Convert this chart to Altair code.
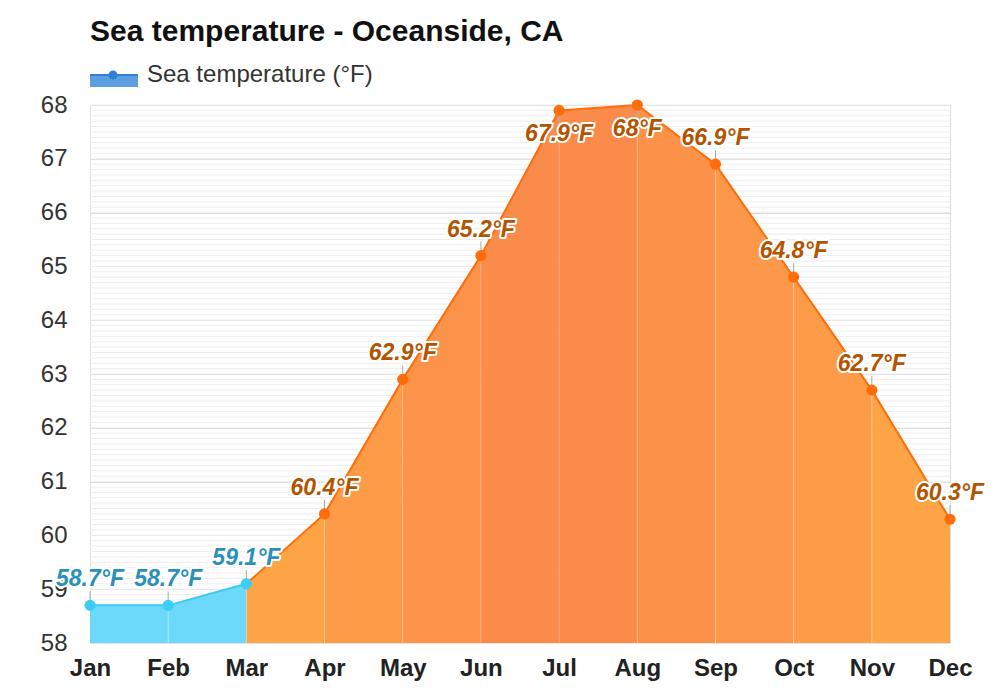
import altair as alt
import pandas as pd

months = ["Jan", "Feb", "Mar", "Apr", "May", "Jun", "Jul", "Aug", "Sep", "Oct", "Nov", "Dec"]
temps = [58.7, 58.7, 59.1, 60.4, 62.9, 65.2, 67.9, 68.0, 66.9, 64.8, 62.7, 60.3]
labels = ["58.7°F", "58.7°F", "59.1°F", "60.4°F", "62.9°F", "65.2°F", "67.9°F", "68°F", "66.9°F", "64.8°F", "62.7°F", "60.3°F"]
label_below = [False, False, False, False, False, False, True, True, False, False, False, False]
seg_colors = ["#6dd9fa", "#6dd9fa", "#fda447", "#fd9b48", "#fc934a", "#fb8b4b",
              "#fb8b4b", "#fc914a", "#fd974a", "#fd9c48", "#fda447"]
y_ticks = [58, 59, 60, 61, 62, 63, 64, 65, 66, 67, 68]
y_min, y_max = 58, 68
title_text = "Sea temperature - Oceanside, CA"
legend_text = "Sea temperature (°F)"

FONT = "Liberation Sans"
W, H = 860, 538

df = pd.DataFrame({"idx": list(range(len(months))), "month": months, "temp": temps,
                   "label": labels, "below": label_below})

seg_rows = []
for i in range(len(months) - 1):
    seg_rows.append({"seg": i, "idx": i, "temp": temps[i]})
    seg_rows.append({"seg": i, "idx": i + 1, "temp": temps[i + 1]})
seg_df = pd.DataFrame(seg_rows)

month_arr = "[" + ",".join("'" + m + "'" for m in months) + "]"

minor_df = pd.DataFrame({"g": [round(y_min + 0.1 * k, 1) for k in range(int((y_max - y_min) * 10) + 1)]})

x_scale = alt.Scale(domain=[0, len(months) - 1], nice=False, zero=False)
y_scale = alt.Scale(domain=[y_min, y_max], nice=False, zero=False)

x_enc = alt.X("idx:Q", scale=x_scale, axis=alt.Axis(
    values=list(range(len(months))), labelExpr=month_arr + "[datum.value]",
    title=None, grid=False, ticks=False, domain=False, labelFlush=False, labelOverlap=False,
    labelFont=FONT, labelFontSize=24, labelFontWeight="bold", labelColor="#222", labelPadding=13))

y_enc = alt.Y("temp:Q", scale=y_scale, axis=alt.Axis(
    values=y_ticks, title=None, ticks=False, domain=False, labelOverlap=False, labelFlush=False,
    labelFont=FONT, labelFontSize=24, labelColor="#333", labelPadding=23,
    gridColor="#dadada", gridWidth=1))

base = alt.Chart(df)

minor = alt.Chart(minor_df).mark_rule(color="#eeeeee", strokeWidth=1).encode(
    y=alt.Y("g:Q", scale=y_scale), x=alt.value(0), x2=alt.value(W))

# layer carrying axes (invisible)
axes = base.mark_point(opacity=0).encode(x=x_enc, y=y_enc)

area = alt.Chart(seg_df).mark_area(opacity=1).encode(
    x=alt.X("idx:Q", scale=x_scale),
    y=alt.Y("temp:Q", scale=y_scale),
    y2=alt.datum(y_min),
    color=alt.Color("seg:N", scale=alt.Scale(domain=list(range(len(seg_colors))), range=seg_colors), legend=None),
    detail="seg:N",
)

bounds = base.transform_filter("datum.idx > 0 && datum.idx < 11").mark_rule(
    color="white", opacity=0.25, strokeWidth=1).encode(
    x=alt.X("idx:Q", scale=x_scale), y=alt.Y("temp:Q", scale=y_scale), y2=alt.datum(y_min))

line_cold = base.transform_filter("datum.idx <= 2").mark_line(color="#3cc8f5", strokeWidth=2).encode(
    x=alt.X("idx:Q", scale=x_scale), y=alt.Y("temp:Q", scale=y_scale))
line_warm = base.transform_filter("datum.idx >= 2").mark_line(color="#ff6d0a", strokeWidth=2).encode(
    x=alt.X("idx:Q", scale=x_scale), y=alt.Y("temp:Q", scale=y_scale))

tick_up = base.transform_filter("!datum.below").mark_rule(color="#a8a8a8", strokeWidth=1, y2Offset=-14).encode(
    x=alt.X("idx:Q", scale=x_scale), y=alt.Y("temp:Q", scale=y_scale), y2="temp:Q")
tick_dn = base.transform_filter("datum.below").mark_rule(color="#a8a8a8", strokeWidth=1, y2Offset=14).encode(
    x=alt.X("idx:Q", scale=x_scale), y=alt.Y("temp:Q", scale=y_scale), y2="temp:Q")

points = base.mark_circle(size=125, opacity=1).encode(
    x=alt.X("idx:Q", scale=x_scale), y=alt.Y("temp:Q", scale=y_scale),
    color=alt.condition("datum.temp < 60", alt.value("#3ccdf6"), alt.value("#ff6d0a")))


def label_layer(filt, dy, halo):
    kw = dict(font=FONT, fontSize=23, fontWeight="bold", fontStyle="italic",
              align="center", baseline="middle", dy=dy)
    if halo:
        m = base.transform_filter(filt).mark_text(stroke="white", strokeWidth=4, strokeJoin="round",
                                                  fill="white", **kw)
        return m.encode(x=alt.X("idx:Q", scale=x_scale), y=alt.Y("temp:Q", scale=y_scale), text="label:N")
    m = base.transform_filter(filt).mark_text(**kw)
    return m.encode(x=alt.X("idx:Q", scale=x_scale), y=alt.Y("temp:Q", scale=y_scale), text="label:N",
                    color=alt.condition("datum.temp < 60", alt.value("#2a90b8"), alt.value("#b35500")))


labels_layers = [
    label_layer("!datum.below", -26, True), label_layer("datum.below", 24, True),
    label_layer("!datum.below", -26, False), label_layer("datum.below", 24, False),
]

one = pd.DataFrame({"t": [title_text], "l": [legend_text]})
title = alt.Chart(one).mark_text(font=FONT, fontSize=30, fontWeight="bold", color="#111",
                                 align="left", baseline="middle").encode(
    x=alt.value(0), y=alt.value(-73), text="t:N")
leg_rect = alt.Chart(one).mark_rect(color="#5d9de2").encode(
    x=alt.value(0), x2=alt.value(48), y=alt.value(-30), y2=alt.value(-18))
leg_line = alt.Chart(one).mark_rule(color="#2f7fd6", strokeWidth=2).encode(
    x=alt.value(0), x2=alt.value(48), y=alt.value(-30))
leg_dot = alt.Chart(one).mark_circle(color="#2f7fd6", size=80, opacity=1).encode(
    x=alt.value(23), y=alt.value(-30))
leg_text = alt.Chart(one).mark_text(font=FONT, fontSize=24, color="#333",
                                    align="left", baseline="middle").encode(
    x=alt.value(57), y=alt.value(-30), text="l:N")

chart = alt.layer(
    minor, axes, area, bounds, line_cold, line_warm, tick_up, tick_dn, points, *labels_layers,
    title, leg_rect, leg_line, leg_dot, leg_text
).properties(
    width=W, height=H,
    autosize=alt.AutoSizeParams(type="none"),
    padding={"left": 82, "top": 97, "right": 42, "bottom": 47},
).configure_view(stroke=None).configure(background="white")

chart.save("out.html", embed_options={"renderer": "svg", "actions": False})
